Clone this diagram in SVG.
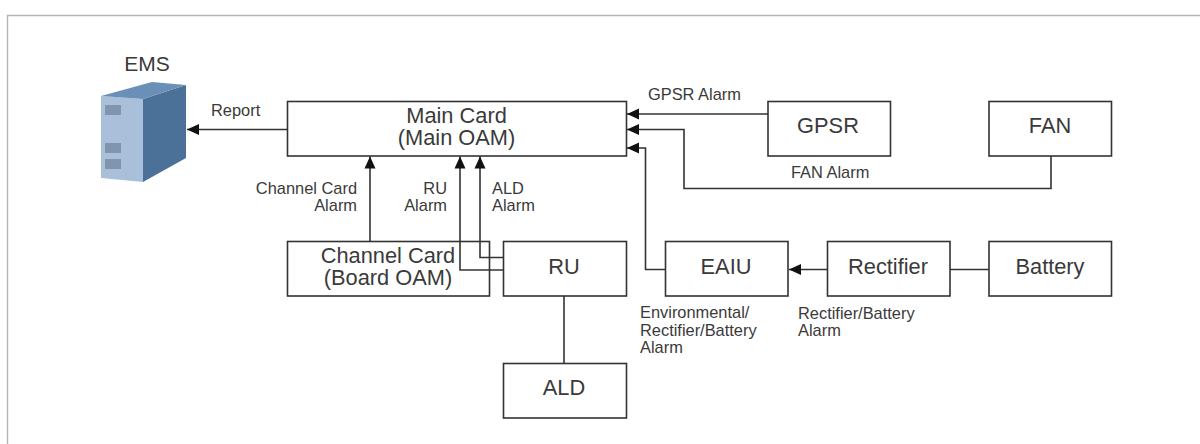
<svg xmlns="http://www.w3.org/2000/svg" width="1200" height="444" viewBox="0 0 1200 444">
<style>
text{font-family:"Liberation Sans",Arial,sans-serif;fill:#3a3a3a}
.n rect{fill:#fff;stroke:#333;stroke-width:1.6}
.n text{font-size:21.8px;text-anchor:middle}
.l{font-size:16.4px}
.e{text-anchor:end}
.c path{fill:none;stroke:#333;stroke-width:1.6}
</style>
<defs><marker id="a" markerUnits="userSpaceOnUse" markerWidth="14" markerHeight="14" refX="13" refY="7" orient="auto"><path d="M1 1.5L13 7L1 12.5Z" fill="#111" stroke="none"/></marker></defs>
<rect width="1200" height="444" fill="#fff"/>
<path d="M7.5 444V15.5H1200" fill="none" stroke="#b4b4b4" stroke-width="1.4"/>
<g id="ems">
<path d="M101 96L143 99V182L101 178Z" fill="#a9bfda"/>
<path d="M143 99L186 85V158L143 182Z" fill="#4c7199"/>
<path d="M101 96L152 82L186 85L143 99Z" fill="#6a90b8"/>
<path d="M105 105H121V115H105ZM105 143H121V153H105ZM105 159H121V169H105Z" fill="#7f96ae"/>
<text x="147" y="71" font-size="21" text-anchor="middle">EMS</text>
</g>
<g class="c" id="connectors">
<path d="M287.5 129.5H187" marker-end="url(#a)"/>
<path d="M768 114H627" marker-end="url(#a)"/>
<path d="M1051 156V188.5H684V129.5H627" marker-end="url(#a)"/>
<path d="M665 269.5H645.5V148H627" marker-end="url(#a)"/>
<path d="M827 269.5H789" marker-end="url(#a)"/>
<path d="M950 269.5H989"/>
<path d="M370 241.5V156.5" marker-end="url(#a)"/>
<path d="M564 296V363"/>
</g>
<g class="n" id="main"><rect x="287.5" y="101.5" width="339" height="54.5"/><text x="456.5" y="123">Main Card</text><text x="456.5" y="145">(Main OAM)</text></g>
<g class="n" id="channel"><rect x="287.5" y="241.5" width="202" height="54.5"/><text x="388" y="263">Channel Card</text><text x="388" y="285">(Board OAM)</text></g>
<g class="n" id="ru"><rect x="503.5" y="241.5" width="123" height="54.5"/><text x="564" y="274">RU</text></g>
<g class="n" id="ald"><rect x="503.5" y="363.5" width="123" height="54.5"/><text x="564" y="395">ALD</text></g>
<g class="n" id="gpsr"><rect x="768" y="101.5" width="122.5" height="54.5"/><text x="828" y="133">GPSR</text></g>
<g class="n" id="fan"><rect x="989" y="101.5" width="122.5" height="54.5"/><text x="1050" y="133">FAN</text></g>
<g class="n" id="eaiu"><rect x="665.5" y="241.5" width="122.5" height="54.5"/><text x="726" y="274">EAIU</text></g>
<g class="n" id="rectifier"><rect x="827.5" y="241.5" width="122.5" height="54.5"/><text x="888" y="274">Rectifier</text></g>
<g class="n" id="battery"><rect x="989" y="241.5" width="122.5" height="54.5"/><text x="1050" y="274">Battery</text></g>
<g class="c" id="connectors-over">
<path d="M503.5 270H460V156.5" marker-end="url(#a)"/>
<path d="M503.5 257.5H480V156.5" marker-end="url(#a)"/>
</g>
<g id="labels">
<text class="l" x="211" y="116">Report</text>
<text class="l" x="648" y="100">GPSR Alarm</text>
<text class="l" x="791" y="178">FAN Alarm</text>
<text class="l e" x="357" y="194">Channel Card</text><text class="l e" x="357" y="211">Alarm</text>
<text class="l e" x="447" y="194">RU</text><text class="l e" x="447" y="211">Alarm</text>
<text class="l" x="492" y="194">ALD</text><text class="l" x="492" y="211">Alarm</text>
<text class="l" x="640" y="318">Environmental/</text><text class="l" x="640" y="336">Rectifier/Battery</text><text class="l" x="640" y="353">Alarm</text>
<text class="l" x="798" y="319">Rectifier/Battery</text><text class="l" x="798" y="336">Alarm</text>
</g>
</svg>
